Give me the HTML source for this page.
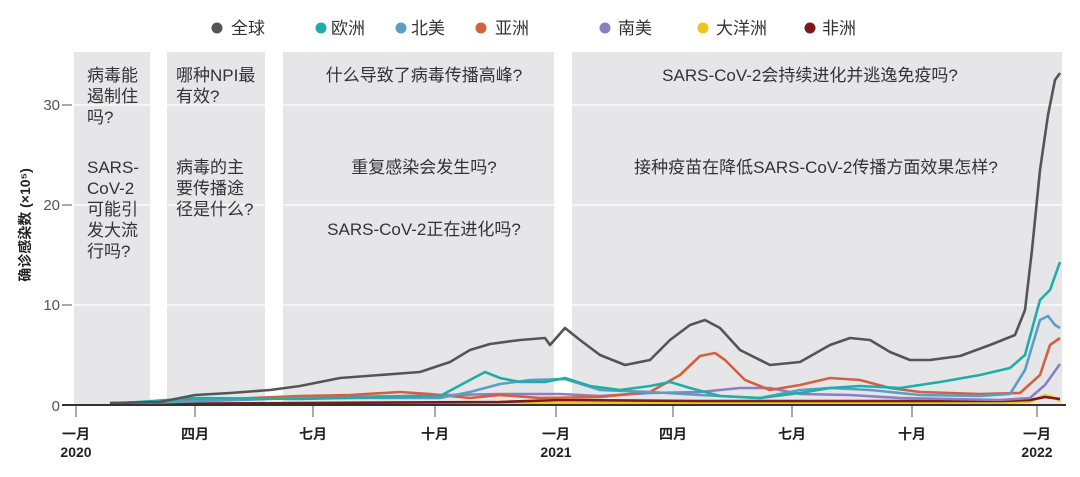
<!DOCTYPE html>
<html><head><meta charset="utf-8"><style>
body{margin:0;background:#fff;}
svg{display:block;font-family:"Liberation Sans","Noto Sans CJK SC",sans-serif;}
.q{font-size:17px;fill:#333;}
.t{font-size:14px;fill:#222;font-weight:bold;}
</style></head><body>
<svg width="1080" height="477" viewBox="0 0 1080 477">
<g fill="#e6e6e8">
<rect x="74" y="52" width="76" height="353"/>
<rect x="167" y="52" width="98" height="353"/>
<rect x="283" y="52" width="271" height="353"/>
<rect x="572" y="52" width="490" height="353"/>
</g>
<g stroke="#fff" stroke-width="1.2">
<line x1="70" x2="1062" y1="105" y2="105"/><line x1="70" x2="1062" y1="205" y2="205"/><line x1="70" x2="1062" y1="305" y2="305"/>
</g>
<g stroke="#555" stroke-width="1"><line x1="62" x2="72" y1="105" y2="105"/><line x1="62" x2="72" y1="205" y2="205"/><line x1="62" x2="72" y1="305" y2="305"/></g>
<g font-size="15" fill="#555" text-anchor="end"><text x="60" y="110">30</text><text x="60" y="210">20</text><text x="60" y="310">10</text><text x="60" y="411">0</text></g>
<text transform="translate(30,225) rotate(-90)" text-anchor="middle" font-size="14" font-weight="bold" fill="#222">确诊感染数 (×10⁵)</text>
<g class="q">
<text x="87" y="81">病毒能</text><text x="87" y="102">遏制住</text><text x="87" y="123">吗?</text>
<text x="87" y="173">SARS-</text><text x="87" y="194">CoV-2</text><text x="87" y="215">可能引</text><text x="87" y="236">发大流</text><text x="87" y="257">行吗?</text>
<text x="176" y="81">哪种NPI最</text><text x="176" y="102">有效?</text>
<text x="176" y="173">病毒的主</text><text x="176" y="194">要传播途</text><text x="176" y="215">径是什么?</text>
<text x="424" y="81" text-anchor="middle">什么导致了病毒传播高峰?</text>
<text x="424" y="173" text-anchor="middle">重复感染会发生吗?</text>
<text x="424" y="235" text-anchor="middle">SARS-CoV-2正在进化吗?</text>
<text x="810" y="81" text-anchor="middle">SARS-CoV-2会持续进化并逃逸免疫吗?</text>
<text x="816" y="173" text-anchor="middle">接种疫苗在降低SARS-CoV-2传播方面效果怎样?</text>
</g>
<g fill="none" stroke-width="2.6" stroke-linejoin="round">
<polyline stroke="#f0c419" points="110,404 500,403 1000,403 1030,402 1045,395 1055,398 1060,401"/>
<polyline stroke="#7a1a1a" points="110,404 500,402 560,400 700,401 1000,401 1030,400 1045,397 1060,399"/>
<polyline stroke="#8b7fbf" points="110,403 300,398 400,396 500,394 560,394 600,396 650,393 700,392 740,388 770,388 800,394 850,395 900,398 1000,400 1030,398 1045,385 1060,364"/>
<polyline stroke="#d3603f" points="110,404 300,396 350,395 400,392 430,394 470,398 500,395 540,398 600,397 650,392 680,375 700,356 715,353 725,360 745,380 770,390 800,385 830,378 860,380 890,388 920,392 980,394 1020,393 1040,375 1050,345 1060,338"/>
<polyline stroke="#5b9ec4" points="110,404 300,398 440,398 470,392 500,384 530,380 565,379 600,390 650,392 700,395 760,398 800,390 830,388 870,390 920,395 980,396 1010,394 1025,370 1040,320 1048,316 1055,325 1060,328"/>
<polyline stroke="#1fada8" points="110,404 195,398 300,399 440,396 470,380 485,372 500,378 520,382 545,382 565,378 590,386 620,390 650,386 670,382 690,388 720,396 760,398 800,393 830,388 860,386 900,388 940,382 980,375 1010,368 1025,355 1040,300 1050,290 1060,262"/>
<polyline stroke="#555" points="110,403 160,402 195,395 230,393 270,390 300,386 340,378 380,375 420,372 450,362 470,350 490,344 520,340 545,338 550,345 565,328 580,340 600,355 625,365 650,360 670,340 690,325 705,320 720,328 740,350 770,365 800,362 830,345 850,338 870,340 890,352 910,360 930,360 960,356 990,345 1015,335 1025,310 1032,250 1040,170 1048,115 1055,80 1060,73"/>
</g>
<line x1="62" x2="1066" y1="405" y2="405" stroke="#333" stroke-width="2"/>
<g stroke="#555" stroke-width="1"><line x1="76" x2="76" y1="406" y2="417"/><line x1="195" x2="195" y1="406" y2="417"/><line x1="313" x2="313" y1="406" y2="417"/><line x1="435" x2="435" y1="406" y2="417"/><line x1="556" x2="556" y1="406" y2="417"/><line x1="673" x2="673" y1="406" y2="417"/><line x1="792" x2="792" y1="406" y2="417"/><line x1="912" x2="912" y1="406" y2="417"/><line x1="1037" x2="1037" y1="406" y2="417"/></g>
<g class="t" text-anchor="middle" font-size="17">
<text x="76" y="439">一月</text><text x="195" y="439">四月</text><text x="313" y="439">七月</text><text x="435" y="439">十月</text><text x="556" y="439">一月</text><text x="673" y="439">四月</text><text x="792" y="439">七月</text><text x="912" y="439">十月</text><text x="1037" y="439">一月</text>
<text x="76" y="457" font-size="14">2020</text><text x="556" y="457" font-size="14">2021</text><text x="1037" y="457" font-size="14">2022</text>
</g>
<g font-size="17" fill="#333">
<circle cx="217" cy="28" r="5.5" fill="#555"/><text x="231" y="34">全球</text>
<circle cx="321" cy="28" r="5.5" fill="#1fada8"/><text x="331" y="34">欧洲</text>
<circle cx="401" cy="28" r="5.5" fill="#5b9ec4"/><text x="411" y="34">北美</text>
<circle cx="481" cy="28" r="5.5" fill="#d3603f"/><text x="495" y="34">亚洲</text>
<circle cx="605" cy="28" r="5.5" fill="#8b7fbf"/><text x="618" y="34">南美</text>
<circle cx="703" cy="28" r="5.5" fill="#f0c419"/><text x="716" y="34">大洋洲</text>
<circle cx="810" cy="28" r="5.5" fill="#7a1a1a"/><text x="822" y="34">非洲</text>
</g>
</svg>
</body></html>
